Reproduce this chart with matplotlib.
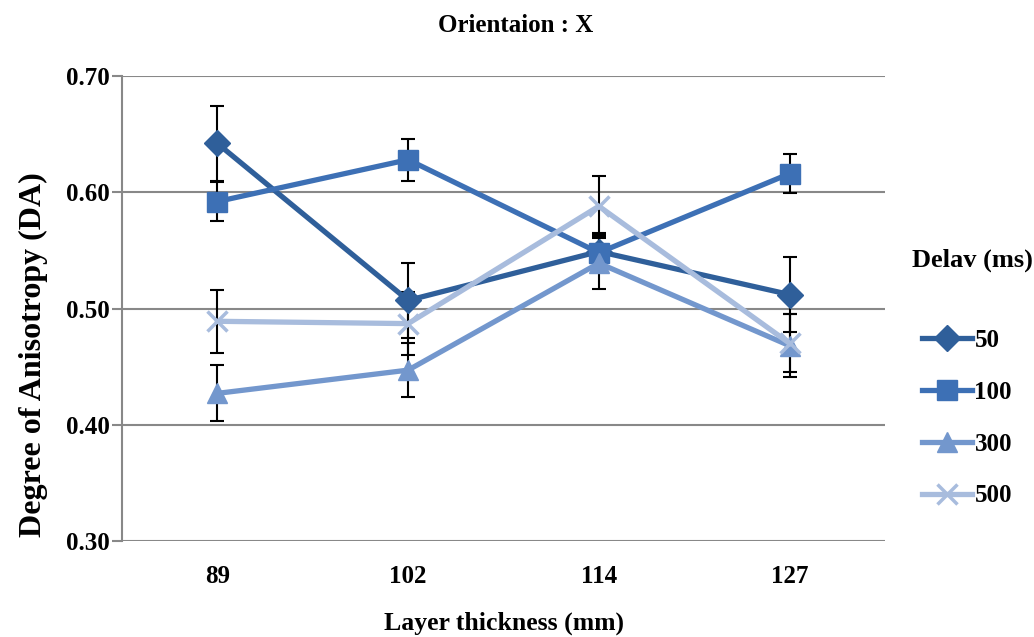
import numpy as np
import matplotlib
matplotlib.use("Agg")
import matplotlib.pyplot as plt

plt.rcParams['font.family'] = ['Liberation Serif', 'DejaVu Serif']
plt.rcParams['font.weight'] = 'bold'

# data
thickness = ['89', '102', '114', '127']
da_50 = [0.642, 0.507, 0.549, 0.512]
err_50 = [0.032, 0.032, 0.016, 0.032]
da_100 = [0.592, 0.628, 0.548, 0.616]
err_100 = [0.017, 0.018, 0.015, 0.017]
da_300 = [0.427, 0.447, 0.539, 0.468]
err_300 = [0.024, 0.023, 0.022, 0.027]
da_500 = [0.489, 0.487, 0.588, 0.470]
err_500 = [0.027, 0.027, 0.026, 0.025]

series = [
    ('50', da_50, err_50, '#2F5F9A', 'D', 13),
    ('100', da_100, err_100, '#3D70B5', 's', 14),
    ('300', da_300, err_300, '#7397CD', '^', 15),
    ('500', da_500, err_500, '#A8BCDD', 'x', 14),
]

fig = plt.figure(figsize=(10.34, 6.37), dpi=100)
ax = fig.add_axes([122 / 1034, 1 - 541 / 637, (885 - 122) / 1034, (541 - 76) / 637])

x = np.arange(len(thickness))
for name, vals, errs, color, marker, ms in series:
    ax.errorbar(x, vals, yerr=errs, fmt='none', ecolor='black', elinewidth=1.5,
                capsize=5, capthick=1.5, zorder=2)
    ax.plot(x, vals, color=color, lw=3.8, marker=marker, ms=ms,
            mew=2.5 if marker == 'x' else 1, mec=color, label=name, zorder=3)

ax.set_xlim(-0.5, 3.5)
ax.set_ylim(0.30, 0.70)
ax.set_yticks([0.30, 0.40, 0.50, 0.60, 0.70])
ax.set_yticklabels(['%.2f' % v for v in [0.30, 0.40, 0.50, 0.60, 0.70]])
ax.set_xticks(x)
ax.set_xticklabels(thickness)
ax.tick_params(axis='both', labelsize=18)
ax.tick_params(axis='x', length=0, pad=17)
ax.tick_params(axis='y', length=7, width=1.5, color='#888888', pad=2)
ax.grid(axis='y', color='#888888', lw=1.5)
ax.set_axisbelow(True)
for s in ['top', 'right', 'bottom']:
    ax.spines[s].set_visible(False)
ax.spines['left'].set_color('#888888')
ax.spines['left'].set_linewidth(1.5)

ax.set_xlabel('Layer thickness (mm)', fontsize=18.5, fontweight='bold', labelpad=17)
ax.set_ylabel('Degree of Anisotropy (DA)', fontsize=23, fontweight='bold')
ax.yaxis.set_label_coords(-0.097, 0.40)
fig.text(516 / 1034, 1 - 25 / 637, 'Orientaion : X', fontsize=18, fontweight='bold',
         ha='center', va='center')

# legend title sits well above the entries
fig.text(912 / 1034, 1 - 260 / 637, 'Delav (ms)', fontsize=19, fontweight='bold',
         ha='left', va='center')
leg = fig.legend(loc='upper left', bbox_to_anchor=(922 / 1034, 1 - 329 / 637),
                 frameon=False, fontsize=18, handlelength=2.0,
                 labelspacing=1.15, handletextpad=0.1, borderpad=0, borderaxespad=0)

fig.savefig('out.png', dpi=100)
